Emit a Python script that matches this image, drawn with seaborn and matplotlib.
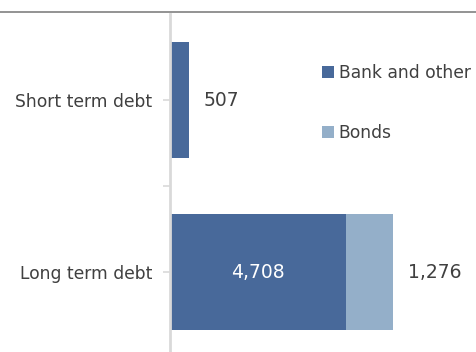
import matplotlib
matplotlib.use("Agg")
import matplotlib.pyplot as plt
from matplotlib.lines import Line2D
from matplotlib.patches import Patch
import seaborn as sns
import pandas as pd

categories = ["Short term debt", "Long term debt"]
bank_and_other = [507, 4708]
bonds = [0, 1276]
series_names = ["Bank and other", "Bonds"]

bank_color = "#48699a"
bonds_color = "#94afc9"
text_color = "#404040"

sns.set_theme(style="white")
plt.rcParams["font.family"] = ["DejaVu Sans"]

df = pd.DataFrame({"category": categories, "bank": bank_and_other, "bonds": bonds})
df["total"] = df["bank"] + df["bonds"]

fig = plt.figure(figsize=(4.77, 3.52), dpi=100)
ax = fig.add_axes([170 / 477, -6 / 352, 1 - 170 / 477, 344 / 352])

XMAX = 8230

# stacked bars: total in the bonds colour, bank portion drawn over it
sns.barplot(data=df, x="total", y="category", color=bonds_color, width=0.68,
            saturation=1, linewidth=0, ax=ax, orient="h")
sns.barplot(data=df, x="bank", y="category", color=bank_color, width=0.68,
            saturation=1, linewidth=0, ax=ax, orient="h")

ax.set_xlim(0, XMAX)
ax.set_ylim(1.5, -0.5)
ax.set_xlabel("")
ax.set_ylabel("")
ax.set_xticks([])

for s in ["top", "right", "bottom"]:
    ax.spines[s].set_visible(False)
ax.spines["left"].set_color("#d9d9d9")
ax.spines["left"].set_linewidth(2)

ax.set_yticks(range(len(categories)))
ax.set_yticklabels(categories, color=text_color, fontsize=12.3)
ax.set_yticks([0.5], minor=True)
ax.tick_params(axis="y", which="both", left=True, length=5, width=1.2,
               color="#d9d9d9", pad=8)

# value labels
off = XMAX * 15 / 307
for i, row in df.iterrows():
    if row["bonds"] > 0:
        ax.text(row["bank"] / 2, i, f"{row['bank']:,}", ha="center", va="center",
                color="white", fontsize=13.5)
        ax.text(row["total"] + off, i, f"{row['bonds']:,}", ha="left", va="center",
                color=text_color, fontsize=13.5)
    else:
        ax.text(row["total"] + off, i, f"{row['bank']:,}", ha="left", va="center",
                color=text_color, fontsize=13.5)

handles = [Patch(facecolor=bank_color, edgecolor="none"),
           Patch(facecolor=bonds_color, edgecolor="none")]
leg = fig.legend(handles, series_names, loc="upper left",
                 bbox_to_anchor=(307 / 477, 1 - 49 / 352), frameon=False,
                 handlelength=0.7, handleheight=0.7, handletextpad=0.25,
                 labelspacing=2.45, fontsize=12.3)
for t in leg.get_texts():
    t.set_color(text_color)

# top rule across the full width
fig.add_artist(Line2D([0, 1], [1 - 12 / 352, 1 - 12 / 352], color="#808080",
                      linewidth=1.2, transform=fig.transFigure))

fig.savefig("out.png", dpi=100)
